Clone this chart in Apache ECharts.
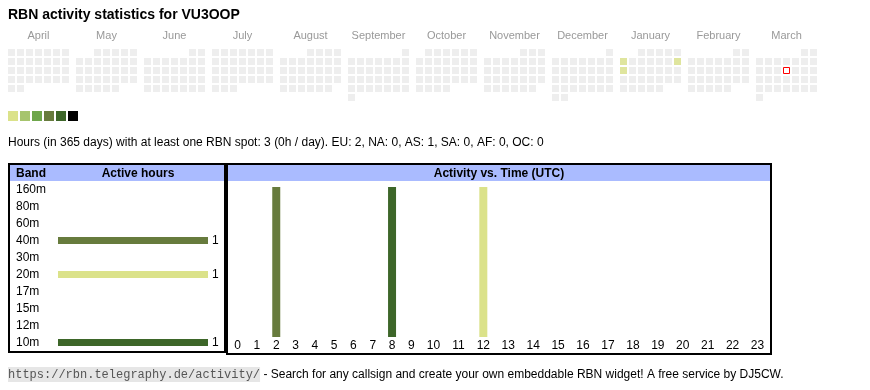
<!DOCTYPE html>
<html>
<head>
<meta charset="utf-8">
<script src="https://cdn.jsdelivr.net/npm/echarts@6/dist/echarts.min.js"></script>
<style>
html,body{margin:0;padding:0;background:#fff;}
#chart{width:870px;height:390px;}
</style>
</head>
<body>
<div id="chart"></div>
<script>
// ---------- data ----------
const titleText = 'RBN activity statistics for VU3OOP';
const monthNames = ['April','May','June','July','August','September','October','November','December','January','February','March'];
const monthRanges = ['2024-04','2024-05','2024-06','2024-07','2024-08','2024-09','2024-10','2024-11','2024-12','2025-01','2025-02','2025-03'];
const activeDays = ['2025-01-06','2025-01-12','2025-01-13'];
const activeDayHours = [1, 1, 1];
const today = '2025-03-13';
const legendColors = ['#dbe28a','#a6c46d','#6ea64b','#677b3d','#3d6629','#000000'];
const summaryText = 'Hours (in 365 days) with at least one RBN spot: 3 (0h / day). EU: 2, NA: 0, AS: 1, SA: 0, AF: 0, OC: 0';
const bands = ['160m','80m','60m','40m','30m','20m','17m','15m','12m','10m'];
const bandActiveHours = [0, 0, 0, 1, 0, 1, 0, 0, 0, 1];
const hourLabels = ['0','1','2','3','4','5','6','7','8','9','10','11','12','13','14','15','16','17','18','19','20','21','22','23'];
const hours40m = [0,0,1,0,0,0,0,0,0,0,0,0,0,0,0,0,0,0,0,0,0,0,0,0];
const hours20m = [0,0,0,0,0,0,0,0,0,0,0,0,1,0,0,0,0,0,0,0,0,0,0,0];
const hours10m = [0,0,0,0,0,0,0,0,1,0,0,0,0,0,0,0,0,0,0,0,0,0,0,0];
const footerUrl = 'https://rbn.telegraphy.de/activity/';
const footerText = ' - Search for any callsign and create your own embeddable RBN widget! A free service by DJ5CW.';

// ---------- styles ----------
const FONT = '"Liberation Sans", Arial, sans-serif';
const bandColor = { '40m': '#677b3d', '20m': '#dbe28a', '10m': '#3d6629' };
const headerBg = '#aabbff';

const chart = echarts.init(document.getElementById('chart'), null, { renderer: 'canvas' });

// calendars, one per month
const calendars = monthRanges.map((r, i) => ({
  orient: 'vertical',
  range: r,
  left: 7 + 68 * i,
  top: 48,
  cellSize: [9, 9],
  splitLine: { show: false },
  itemStyle: { color: '#eeeeee', borderColor: '#ffffff', borderWidth: 2 },
  dayLabel: { show: false, firstDay: 1 },
  monthLabel: { show: false },
  yearLabel: { show: false },
  silent: true
}));

const series = [];
const calSeriesIdx = [];
monthRanges.forEach((r, ci) => {
  const d = [];
  activeDays.forEach((day, k) => { if (day.slice(0, 7) === r) d.push([day, activeDayHours[k]]); });
  if (d.length) {
    calSeriesIdx.push(series.length);
    series.push({
      type: 'scatter', coordinateSystem: 'calendar', calendarIndex: ci,
      symbol: 'rect', symbolSize: 7, data: d, silent: true, z: 3
    });
  }
});

// band bars
series.push({
  type: 'bar', xAxisIndex: 0, yAxisIndex: 0, barWidth: 7, silent: true,
  data: bands.map((b, i) => ({ value: bandActiveHours[i], itemStyle: { color: bandColor[b] || '#999' } })),
  label: { show: true, position: 'right', distance: 4, color: '#000', fontSize: 12, fontFamily: FONT,
           formatter: p => (p.value ? String(p.value) : '') }
});

// hour bars, split at first two-digit label (table column widths differ)
const split = hourLabels.findIndex(l => l.length > 1);
const hourSets = [['40m', hours40m], ['20m', hours20m], ['10m', hours10m]];
[[1, 0, split], [2, split, hourLabels.length]].forEach(([gi, a, b]) => {
  hourSets.forEach(([band, arr]) => {
    series.push({
      type: 'bar', xAxisIndex: gi, yAxisIndex: gi, stack: 'h' + gi, barWidth: 8, silent: true,
      itemStyle: { color: bandColor[band] }, data: arr.slice(a, b)
    });
  });
});

const maxBand = Math.max(...bandActiveHours);
const hourTotals = hourLabels.map((_, i) => hours40m[i] + hours20m[i] + hours10m[i]);
const maxHour = Math.max(...hourTotals);

const catX = (data) => ({
  type: 'category', data,
  axisLine: { show: false }, axisTick: { show: false }, splitLine: { show: false },
  axisLabel: { interval: 0, margin: 3, fontSize: 12, color: '#000', fontFamily: FONT }
});

function txt(text, x, y, font, fill, align) {
  return { type: 'text', silent: true, z: 50,
    style: { text, x, y, font, fill: fill || '#000', textAlign: align || 'left', align: align || 'left',
             textVerticalAlign: 'middle', verticalAlign: 'middle' } };
}

const graphics = [
  txt(titleText, 8, 15.5, 'bold 14px ' + FONT, '#000'),
  ...monthNames.map((m, i) => txt(m, 38.5 + 68 * i, 36, '11px ' + FONT, '#999999', 'center')),
  txt(summaryText, 8, 142.5, '12px ' + FONT, '#000'),
  // table headers
  { type: 'rect', silent: true, z: 40, shape: { x: 10, y: 165, width: 214, height: 16 }, style: { fill: headerBg } },
  { type: 'rect', silent: true, z: 40, shape: { x: 228, y: 165, width: 542, height: 16 }, style: { fill: headerBg } },
  txt('Band', 16, 173.5, 'bold 12px ' + FONT, '#000'),
  txt('Active hours', 138, 173.5, 'bold 12px ' + FONT, '#000', 'center'),
  txt('Activity vs. Time (UTC)', 499, 173.5, 'bold 12px ' + FONT, '#000', 'center'),
  // frames
  { type: 'rect', silent: true, z: 60, shape: { x: 9, y: 164, width: 216, height: 188 }, style: { fill: 'none', stroke: '#000', lineWidth: 2 } },
  { type: 'rect', silent: true, z: 60, shape: { x: 227, y: 164, width: 544, height: 190 }, style: { fill: 'none', stroke: '#000', lineWidth: 2 } },
  // footer
  { type: 'text', silent: true, z: 50,
    style: { x: 8, y: 374.5, text: '{u|' + footerUrl + '}{t|' + footerText + '}',
      textVerticalAlign: 'middle', verticalAlign: 'middle',
      rich: {
        u: { font: '12px "Liberation Mono", "DejaVu Sans Mono", monospace', fill: '#555555', backgroundColor: '#e6e6e6', padding: [2, 0, 1, 0] },
        t: { font: '12px ' + FONT, fill: '#000' }
      } } }
];

const option = {
  animation: false,
  backgroundColor: '#ffffff',
  textStyle: { fontFamily: FONT },
  calendar: calendars,
  visualMap: {
    type: 'piecewise', orient: 'horizontal', left: 8, top: 111, padding: 0,
    itemWidth: 10, itemHeight: 10, itemGap: 2, itemSymbol: 'rect', showLabel: false,
    seriesIndex: calSeriesIdx, dimension: 1, hoverLink: false, selectedMode: false,
    pieces: [
      { gte: 1, lte: 1, color: legendColors[0] },
      { gte: 2, lte: 2, color: legendColors[1] },
      { gte: 3, lte: 4, color: legendColors[2] },
      { gte: 5, lte: 8, color: legendColors[3] },
      { gte: 9, lte: 16, color: legendColors[4] },
      { gte: 17, color: legendColors[5] }
    ]
  },
  grid: [
    { left: 58, top: 181, width: 150, height: 170, outerBoundsMode: 'none' },
    { left: 228, top: 187, width: 193, height: 150, outerBoundsMode: 'none' },
    { left: 421, top: 187, width: 349, height: 150, outerBoundsMode: 'none' }
  ],
  xAxis: [
    { gridIndex: 0, type: 'value', min: 0, max: maxBand, show: false },
    Object.assign({ gridIndex: 1 }, catX(hourLabels.slice(0, split))),
    Object.assign({ gridIndex: 2 }, catX(hourLabels.slice(split)))
  ],
  yAxis: [
    { gridIndex: 0, type: 'category', data: bands, inverse: true,
      axisLine: { show: false }, axisTick: { show: false }, splitLine: { show: false },
      axisLabel: { interval: 0, align: 'left', margin: 42, fontSize: 12, color: '#000', fontFamily: FONT } },
    { gridIndex: 1, type: 'value', min: 0, max: maxHour, show: false },
    { gridIndex: 2, type: 'value', min: 0, max: maxHour, show: false }
  ],
  graphic: { elements: graphics },
  series
};
chart.setOption(option);

// today marker: located through the calendar coordinate system
const todayCal = monthRanges.indexOf(today.slice(0, 7));
const tp = chart.convertToPixel({ calendarIndex: todayCal }, today);
if (tp && isFinite(tp[0])) {
  graphics.push({ type: 'rect', silent: true, z: 70,
    shape: { x: tp[0] - 3, y: tp[1] - 3, width: 6, height: 6 },
    style: { fill: '#ffffff', stroke: '#ff0000', lineWidth: 1 } });
  chart.setOption({ graphic: { elements: graphics } }, { replaceMerge: ['graphic'] });
}
</script>
</body>
</html>
